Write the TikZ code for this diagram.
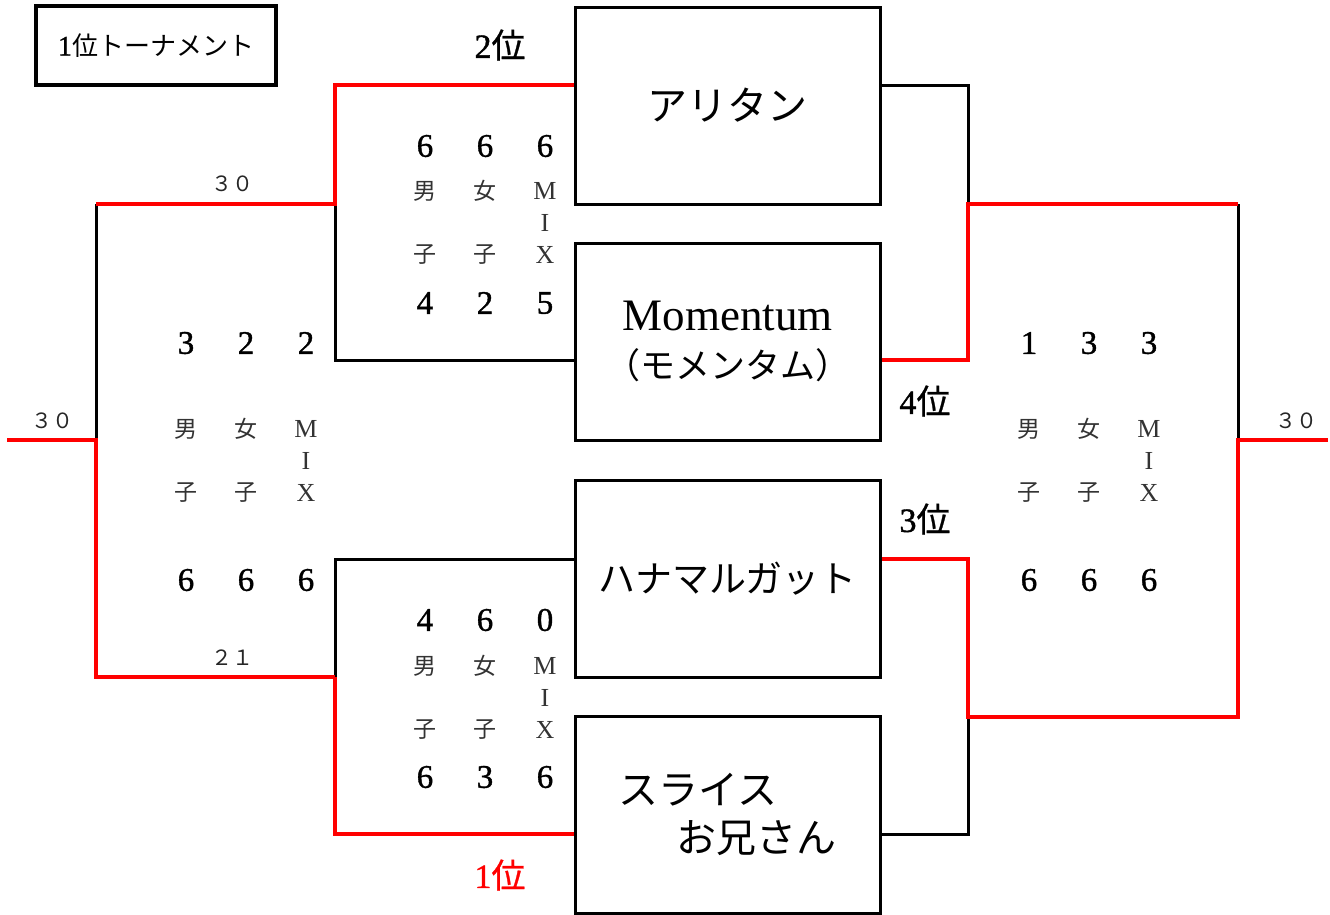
\documentclass[tikz,border=0pt]{standalone}
\usepackage{fontspec}
\setmainfont{Liberation Serif}
\newfontfamily\jp{Noto Sans CJK JP}
\newfontfamily\numf[FakeBold=1.2]{Liberation Serif}
\newfontfamily\jpb[FakeBold=0.8]{Noto Sans CJK JP}
\usetikzlibrary{calc}
\newcommand\mkcats[3]{%
  \node[lab] (#1m) at (#2,#3) {男};
  \node[lab] (#1w) at ({#2+60},#3) {女};
  \node[mixl] (#1x1) at ({#2+120},#3) {M};
  \node[mixl] (#1x2) at ({#2+120},{#3+32}) {I};
  \node[lab] (#1m2) at (#2,{#3+64}) {子};
  \node[lab] (#1w2) at ({#2+60},{#3+64}) {子};
  \node[mixl] (#1x3) at ({#2+120},{#3+64}) {X};
}
\newcommand\mkscore[5]{% name, x, y, a, b
  \node[num] (#1a) at (#2,#3) {#4};
  \node[num] (#1b) at ({#2+60},#3) {#5};
}
\begin{document}
\begin{tikzpicture}[x=1pt,y=-1pt,
  team/.style={draw, line width=3pt, minimum width=305pt, minimum height=197pt, inner sep=0pt, align=center, font=\jp\fontsize{40}{48}\selectfont},
  blk/.style={black, line width=3pt, line join=miter},
  win/.style={red, line width=4.5pt, line join=miter},
  num/.style={inner sep=0pt, font=\numf\fontsize{33}{33}\selectfont},
  lab/.style={inner sep=0pt, text=black!80, font=\jp\fontsize{23}{23}\selectfont},
  mixl/.style={inner sep=0pt, text=black!80, font=\fontsize{26}{26}\selectfont},
  pts/.style={inner sep=0pt, text=black!85, font=\jp\fontsize{21}{21}\selectfont},
  rank/.style={inner sep=0pt, font=\numf\fontsize{34}{34}\selectfont}]
\useasboundingbox (0,0) rectangle (1330,914);

% title
\node[draw, line width=3.5pt, minimum width=240pt, minimum height=79pt, inner sep=0pt,
  font=\jp\fontsize{26}{26}\selectfont] (title) at (156,45.5) {{\numf\fontsize{28}{28}\selectfont 1}位トーナメント};

% teams
\node[team] (t1) at (727.5,105.5) {アリタン};
\node[team] (t2) at (727.5,341.5) {{\rmfamily\fontsize{45}{48}\selectfont Momentum}\\{\fontsize{35}{48}\selectfont （モメンタム）}};
\node[team, font=\jp\fontsize{37}{48}\selectfont] (t3) at (727.5,578.5) {ハナマルガット};
\node[team, align=left] (t4) at (727.5,814.5) {スライス\\\hspace*{58pt}お兄さん};

% attachment points
\coordinate (t1l) at ($(t1.west)+(0,-20.5)$);
\coordinate (t2l) at ($(t2.west)+(0,18.5)$);
\coordinate (t3l) at ($(t3.west)+(0,-19.5)$);
\coordinate (t4l) at ($(t4.west)+(0,19.5)$);
\coordinate (t1r) at ($(t1.east)+(0,-20.5)$);
\coordinate (t2r) at ($(t2.east)+(0,18.5)$);
\coordinate (t3r) at ($(t3.east)+(0,-19.5)$);
\coordinate (t4r) at ($(t4.east)+(0,19.5)$);
\coordinate (q1) at (335,204);
\coordinate (q2) at (335,677);
\coordinate (f1) at (968,204);
\coordinate (f2) at (968,717);
\coordinate (L) at (96,440);
\coordinate (R) at (1238,440);
\coordinate (Lend) at (7,440);
\coordinate (Rend) at (1328,440);

% black connectors
\draw[blk] (q1) |- (t2l);
\draw[blk] (t3l) -| (q2);
\draw[blk] (q1 -| L) -- (L);
\draw[blk] (t1r) -| (f1);
\draw[blk] (t4r) -| (f2);
\draw[blk] (f1 -| R) -- (R);

% red connectors
\draw[win] (t1l) -| (q1) -- (q1 -| L);
\draw[win] (q2) |- (t4l);
\draw[win] (Lend) -- (L) |- (q2);
\draw[win] (t2r) -| (f1) -- (f1 -| R);
\draw[win] (t3r) -| (f2) -- (f2 -| R) -- (R) -- (Rend);

% ranks
\node[rank] (r2) at (500,45) {2{\jpb 位}};
\node[rank, text=red] (r1) at (500,875) {1{\jpb 位}};
\node[rank] (r4) at (925,401) {4{\jpb 位}};
\node[rank] (r3) at (925,519) {3{\jpb 位}};

% match points
\node[pts] (p1) at (232,184) {３０};
\node[pts] (p2) at (232,658) {２１};
\node[pts] (p3) at (52,421) {３０};
\node[pts] (p4) at (1296,421) {３０};

% score blocks
\mkscore{m1t}{425}{146}{6}{6}\node[num] (m1tc) at (545,146) {6};
\mkcats{m1}{425}{191}
\mkscore{m1u}{425}{303}{4}{2}\node[num] (m1uc) at (545,303) {5};

\mkscore{m2t}{425}{620}{4}{6}\node[num] (m2tc) at (545,620) {0};
\mkcats{m2}{425}{666}
\mkscore{m2u}{425}{777}{6}{3}\node[num] (m2uc) at (545,777) {6};

\mkscore{fLt}{186}{343}{3}{2}\node[num] (fLtc) at (306,343) {2};
\mkcats{fL}{186}{429}
\mkscore{fLu}{186}{580}{6}{6}\node[num] (fLuc) at (306,580) {6};

\mkscore{fRt}{1029}{343}{1}{3}\node[num] (fRtc) at (1149,343) {3};
\mkcats{fR}{1029}{429}
\mkscore{fRu}{1029}{580}{6}{6}\node[num] (fRuc) at (1149,580) {6};
\end{tikzpicture}
\end{document}
